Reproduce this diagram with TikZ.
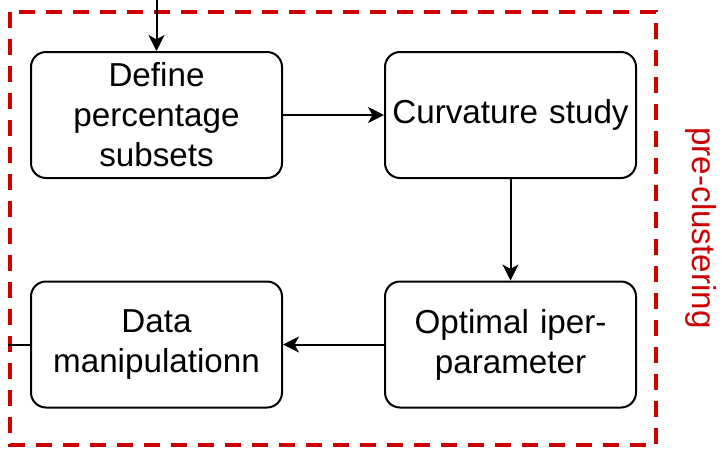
\documentclass[tikz,border=0pt]{standalone}
\usepackage{fontspec}
\setmainfont{Liberation Sans}
\usetikzlibrary{arrows.meta}
\definecolor{framered}{HTML}{CC0000}
\tikzset{
  stepbox/.style={draw=black, line width=1pt, rounded corners=7.5pt,
    minimum width=125.5pt, minimum height=63pt, inner sep=2pt,
    align=center, text width=120pt, font=\fontsize{16.6}{20}\selectfont},
  conn/.style={draw=black, line width=1pt,
    -{Stealth[length=8pt,width=8pt,inset=2.2pt]}},
  plainconn/.style={draw=black, line width=1pt},
  frame/.style={draw=framered, line width=2.2pt, dash pattern=on 8pt off 5.5pt},
}
\begin{document}
\begin{tikzpicture}[x=0.5pt,y=-0.5pt]
\useasboundingbox (0,0) rectangle (723,452);
\draw[frame] (10,12) rectangle (656,445);
\node[stepbox] (define) at (156.5,115) {Define\\percentage\\subsets};
\node[stepbox] (curv) at (510.5,115) {Curvature study};
\node[stepbox] (opt) at (510.5,344.5) {Optimal iper-\\parameter};
\node[stepbox] (data) at (156.5,344.5) {Data\\manipulationn};
\coordinate (top) at (156.5,0);
\coordinate (lend) at (8,344.5);
\draw[conn] (top) -- (define.north);
\draw[conn] (define) -- (curv);
\draw[conn] (curv) -- (opt);
\draw[conn] (opt) -- (data);
\draw[plainconn] (data.west) -- (lend);
\node[anchor=base, rotate=-90, text=framered, font=\fontsize{16.6}{20}\selectfont, inner sep=0pt] (label) at (692,228) {pre-clustering};
\end{tikzpicture}
\end{document}
